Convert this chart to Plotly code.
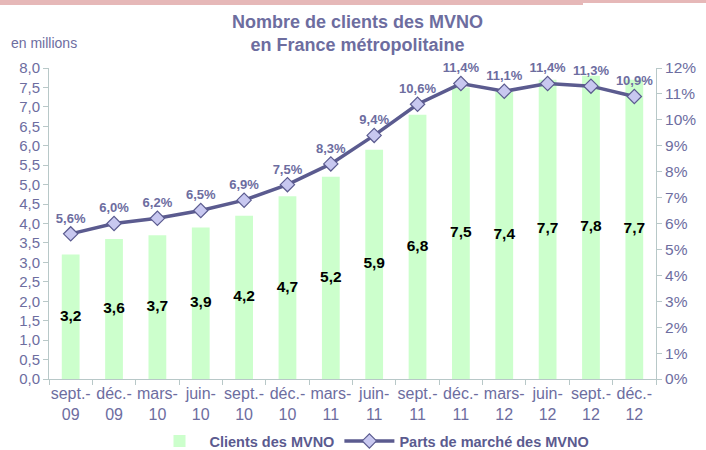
import plotly.graph_objects as go

categories = ["sept.-<br>09", "déc.-<br>09", "mars-<br>10", "juin-<br>10", "sept.-<br>10", "déc.-<br>10",
              "mars-<br>11", "juin-<br>11", "sept.-<br>11", "déc.-<br>11", "mars-<br>12", "juin-<br>12",
              "sept.-<br>12", "déc.-<br>12"]
clients = [3.2, 3.6, 3.7, 3.9, 4.2, 4.7, 5.2, 5.9, 6.8, 7.5, 7.4, 7.7, 7.8, 7.7]
parts = [5.6, 6.0, 6.2, 6.5, 6.9, 7.5, 8.3, 9.4, 10.6, 11.4, 11.1, 11.4, 11.3, 10.9]

PURPLE = "#5b5b8f"
TXT = "#6d6d9f"
AXIS = "#b8c8c8"
FONT = "Liberation Sans, Arial, sans-serif"

L, R, T, B = 49, 50, 68, 71
PW, PH = 706 - L - R, 450 - T - B


def px_x(x):
    return (x - L) / PW


def px_y(y):
    return (450 - B - y) / PH


def fr(v, suffix=""):
    return f"{v:.1f}".replace(".", ",") + suffix


fig = go.Figure()
fig.add_trace(go.Bar(
    x=categories, y=clients, name="Clients des MVNO",
    marker=dict(color="#ccffcc", line=dict(width=0)),
    hoverinfo="skip",
))
fig.add_trace(go.Scatter(
    x=categories, y=[v / 2 for v in clients], mode="text",
    text=[fr(v) for v in clients], showlegend=False,
    textfont=dict(family=FONT, size=15.5, color="black", weight="bold"),
    hoverinfo="skip",
))
fig.add_trace(go.Scatter(
    x=categories, y=parts, name="Parts de marché des MVNO", yaxis="y2",
    mode="lines+markers+text", text=[fr(v, "%") for v in parts], textposition="top center",
    textfont=dict(family=FONT, size=13, color=TXT, weight="bold"),
    line=dict(color=PURPLE, width=3.5),
    marker=dict(symbol="diamond", size=11, color="#c8c8f0", line=dict(color=PURPLE, width=1.2)),
    hoverinfo="skip", cliponaxis=False,
))

fig.update_layout(
    width=706, height=450,
    margin=dict(l=L, r=R, t=T, b=B, autoexpand=False),
    paper_bgcolor="white", plot_bgcolor="white",
    separators=", ",
    bargap=0.59,
    font=dict(family=FONT, size=15, color=TXT),
    xaxis=dict(
        type="category", range=[-0.5, len(categories) - 0.5],
        showline=True, linecolor=AXIS, linewidth=1,
        ticks="outside", tickson="boundaries", ticklen=5, tickcolor=AXIS,
        tickfont=dict(size=16, color=TXT), showgrid=False, tickangle=0, automargin=False,
    ),
    yaxis=dict(
        range=[0, 8], dtick=0.5, tickformat=".1f", showline=True, linecolor=AXIS,
        ticks="outside", ticklen=5, tickcolor=AXIS, showgrid=False, zeroline=False,
        tickfont=dict(size=15, color=TXT), automargin=False,
    ),
    yaxis2=dict(
        range=[0, 12], dtick=1, ticksuffix="%", overlaying="y", side="right",
        showline=True, linecolor=AXIS, ticks="outside", ticklen=5, tickcolor=AXIS,
        showgrid=False, zeroline=False, tickfont=dict(size=15.5, color=TXT), automargin=False,
    ),
    legend=dict(
        orientation="h", x=px_x(372), xanchor="center",
        y=px_y(441), yanchor="middle", itemwidth=50,
        font=dict(family=FONT, size=14.5, color=PURPLE, weight="bold"),
        bgcolor="rgba(0,0,0,0)",
    ),
    showlegend=True,
)

fig.add_annotation(text="<b>Nombre de clients des MVNO<br>en France métropolitaine</b>",
                   xref="paper", yref="paper", x=px_x(357), y=px_y(34), xanchor="center",
                   yanchor="middle", showarrow=False,
                   font=dict(family=FONT, size=18, color=TXT))
fig.add_annotation(text="en millions", xref="paper", yref="paper", x=px_x(9), y=px_y(43),
                   xanchor="left", yanchor="middle", showarrow=False,
                   font=dict(family=FONT, size=14, color=TXT))

fig.add_shape(type="rect", xref="paper", yref="paper",
              x0=px_x(0), x1=px_x(583), y0=px_y(5), y1=px_y(0),
              fillcolor="#e6b8b8", line=dict(width=0), layer="below")
fig.add_shape(type="rect", xref="paper", yref="paper",
              x0=px_x(583), x1=px_x(706), y0=px_y(3), y1=px_y(0),
              fillcolor="#e6b8b8", line=dict(width=0), layer="below")

fig.write_html("out.html", config={"displayModeBar": False},
               post_script="document.body.style.margin='0';document.body.style.overflow='hidden';")
